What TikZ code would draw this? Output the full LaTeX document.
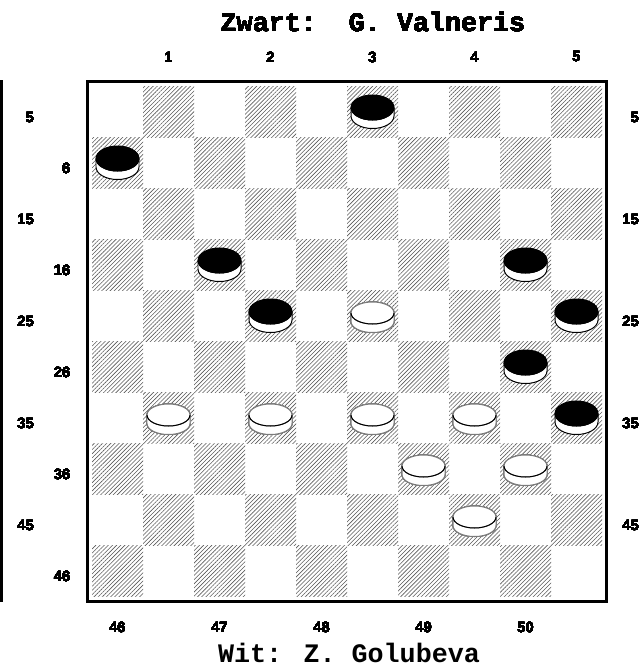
\documentclass[tikz,border=0pt]{standalone}
\usepackage{fontspec}
\setmainfont{Liberation Sans}
\newfontfamily\courier{Liberation Mono}
\usetikzlibrary{patterns.meta}
\definecolor{Rim}{HTML}{7A7A7A}

\newcommand{\damstuk}[5]{%
  \filldraw[fill=white,draw=#5,line width=0.85pt] (#1-21.5,#2) -- (#1-21.5,#2+8.5)
    arc[start angle=180,end angle=0,x radius=21.5,y radius=#3] -- (#1+21.5,#2);
  \filldraw[fill=#4,draw=#5,line width=0.85pt] (#1,#2) ellipse[x radius=21.5,y radius=#3];
  \draw[line width=0.85pt] (#1-21.5,#2) arc[start angle=180,end angle=0,x radius=21.5,y radius=#3];
}

\begin{document}
\begin{tikzpicture}[x=0.03cm,y=-0.03cm,
      hatch/.style={pattern={Lines[angle=45,distance=2.5pt,line width=0.5pt]},pattern color=black!65},
      frame/.style={line width=2.6pt},
      lbl/.style={inner sep=0pt,font=\fontsize{12.5}{12.5}\selectfont\bfseries},
      title/.style={inner sep=0pt,anchor=base,font=\courier\fontsize{22.8}{22.8}\selectfont\bfseries}
    ]
      \useasboundingbox (0,0) rectangle (639,666);
      \foreach \r in {0,...,9}
        \foreach \k in {0,...,4}{
          \pgfmathtruncatemacro{\c}{2*\k+1-mod(\r,2)}
          \fill[hatch] (92+51*\c,86+51*\r) rectangle +(51,51);
        }
      \draw[frame] (87.5,81.5) rectangle (606.5,601.5);
      \draw[frame] (1.5,80) -- (1.5,602);
      \foreach \px/\py in {372.5/111.5,117.5/162.5,219.5/264.5,525.5/264.5,
          270.5/315.5,576.5/315.5,525.5/366.5,576.5/417.5}
        \damstuk{\px}{\py-4}{12.5}{black}{black}
      \foreach \px/\py in {372.5/315.5,168.5/417.5,270.5/417.5,372.5/417.5,
          474.5/417.5,423.5/468.5,525.5/468.5,474.5/519.5}
        \damstuk{\px}{\py-2.5}{11}{white}{Rim}
      \foreach \n in {1,...,5}{
        \pgfmathtruncatemacro{\lo}{10*\n-5}
        \pgfmathtruncatemacro{\hi}{10*\n-4}
        \pgfmathtruncatemacro{\bt}{45+\n}
        \node[lbl] (top\n) at (66.5+102*\n,57) {\n};
        \node[lbl] (bot\n) at (15.5+102*\n,627) {\bt};
        \node[lbl,anchor=east] (lo\n) at (34,15.5+102*\n) {\lo};
        \node[lbl,anchor=east] (hi\n) at (70.5,66.5+102*\n) {\hi};
        \node[lbl,anchor=east] (re\n) at (639,15.5+102*\n) {\lo};
      }
      \node[title] (zwart) at (373,31) {Zwart:\ \ G. Valneris};
      \node[title] (wit) at (349,662) {Wit: Z. Golubeva};
    \end{tikzpicture}
\end{document}
